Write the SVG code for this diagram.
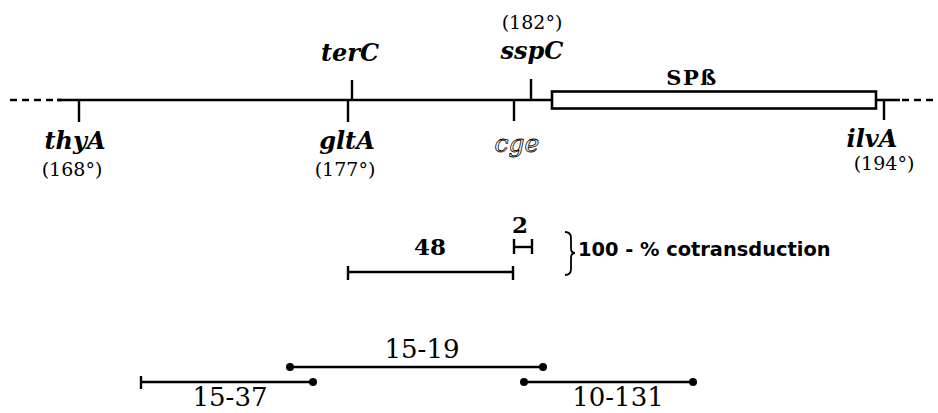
<svg xmlns="http://www.w3.org/2000/svg" width="938" height="413" viewBox="0 0 938 413">
  <defs>
    <style>
      .line { stroke: #000; stroke-width: 2.6; fill: none; }
      .dash { stroke: #000; stroke-width: 2.6; fill: none; stroke-dasharray: 7 5; }
      .tick { stroke: #000; stroke-width: 2.4; fill: none; }
      .dot { fill: #000; }
      .gene { font-family: "DejaVu Serif", serif; font-weight: bold; font-style: italic; font-size: 24px; text-anchor: middle; fill: #000; }
      .deg { font-family: "DejaVu Serif", serif; font-size: 19px; text-anchor: middle; fill: #000; }
      .num { font-family: "DejaVu Serif", serif; font-size: 26px; text-anchor: middle; fill: #000; }
      .bnum { font-family: "DejaVu Serif", serif; font-weight: bold; font-size: 23px; text-anchor: middle; fill: #000; }
      .note { font-family: "DejaVu Sans", sans-serif; font-weight: bold; font-size: 19.4px; fill: #000; }
    </style>
  </defs>
  <rect width="938" height="413" fill="#fff"/>

  <!-- chromosome backbone -->
  <g id="chromosome">
    <line class="dash" x1="10" y1="100" x2="62" y2="100"/>
    <line class="line" x1="57" y1="100" x2="552" y2="100"/>
    <line class="line" x1="876" y1="100" x2="900" y2="100"/>
    <line class="dash" x1="902" y1="100" x2="938" y2="100"/>
  </g>

  <!-- prophage SPbeta -->
  <g id="spbeta">
    <rect x="552" y="91.5" width="324" height="17" fill="#fff" stroke="#000" stroke-width="2.6"/>
    <text x="692" y="85" font-family="DejaVu Serif, serif" font-weight="bold" font-size="21" letter-spacing="1.5" text-anchor="middle">SPß</text>
  </g>

  <!-- markers -->
  <g id="thyA">
    <line class="tick" x1="79" y1="100" x2="79" y2="122"/>
    <text class="gene" x="75" y="149">thyA</text>
    <text class="deg" x="72" y="176">(168°)</text>
  </g>
  <g id="terC">
    <line class="tick" x1="352" y1="80" x2="352" y2="100"/>
    <text class="gene" x="350" y="61">terC</text>
  </g>
  <g id="gltA">
    <line class="tick" x1="348" y1="100" x2="348" y2="122"/>
    <text class="gene" x="347" y="149">gltA</text>
    <text class="deg" x="345" y="176">(177°)</text>
  </g>
  <g id="sspC">
    <line class="tick" x1="531" y1="79" x2="531" y2="100"/>
    <text class="gene" x="532" y="59">sspC</text>
    <text class="deg" x="532" y="29">(182°)</text>
  </g>
  <g id="cge">
    <line class="tick" x1="514" y1="100" x2="514" y2="121"/>
    <text x="517" y="152" font-family="DejaVu Serif, serif" font-style="italic" font-size="25" text-anchor="middle" fill="#fff" stroke="#000" stroke-width="0.8">cge</text>
  </g>
  <g id="ilvA">
    <line class="tick" x1="884" y1="100" x2="884" y2="120"/>
    <text class="gene" x="872" y="147">ilvA</text>
    <text class="deg" x="884" y="170">(194°)</text>
  </g>

  <!-- cotransduction distances -->
  <g id="dist-2">
    <text class="bnum" x="520" y="233">2</text>
    <line class="tick" x1="514" y1="247" x2="532" y2="247"/>
    <line class="tick" x1="514" y1="239" x2="514" y2="254"/>
    <line class="tick" x1="532" y1="239" x2="532" y2="254"/>
  </g>
  <g id="dist-48">
    <text class="bnum" x="430" y="255">48</text>
    <line class="tick" x1="348" y1="272" x2="513" y2="272"/>
    <line class="tick" x1="348" y1="266" x2="348" y2="280"/>
    <line class="tick" x1="513" y1="266" x2="513" y2="280"/>
  </g>
  <g id="legend">
    <path d="M565 232 Q571 232 571 238 L571 248 Q571 253 575 253 Q571 253 571 258 L571 269 Q571 275 565 275" fill="none" stroke="#000" stroke-width="1.8"/>
    <text class="note" x="578" y="256">100 - % cotransduction</text>
  </g>

  <!-- mapped clones -->
  <g id="connectors">
    <g id="clone-15-19">
      <line class="line" x1="290" y1="367" x2="543" y2="367"/>
      <circle class="dot" cx="290" cy="367" r="4"/>
      <circle class="dot" cx="543" cy="367" r="4"/>
      <text class="num" x="422" y="358">15-19</text>
    </g>
    <g id="clone-15-37">
      <line class="line" x1="141" y1="382" x2="313" y2="382"/>
      <line class="tick" x1="141" y1="376" x2="141" y2="389"/>
      <circle class="dot" cx="313" cy="382" r="4"/>
      <text class="num" x="230" y="406">15-37</text>
    </g>
    <g id="clone-10-131">
      <line class="line" x1="524" y1="382" x2="693" y2="382"/>
      <circle class="dot" cx="524" cy="382" r="4"/>
      <circle class="dot" cx="693" cy="382" r="4"/>
      <text class="num" x="618" y="406">10-131</text>
    </g>
  </g>
</svg>
